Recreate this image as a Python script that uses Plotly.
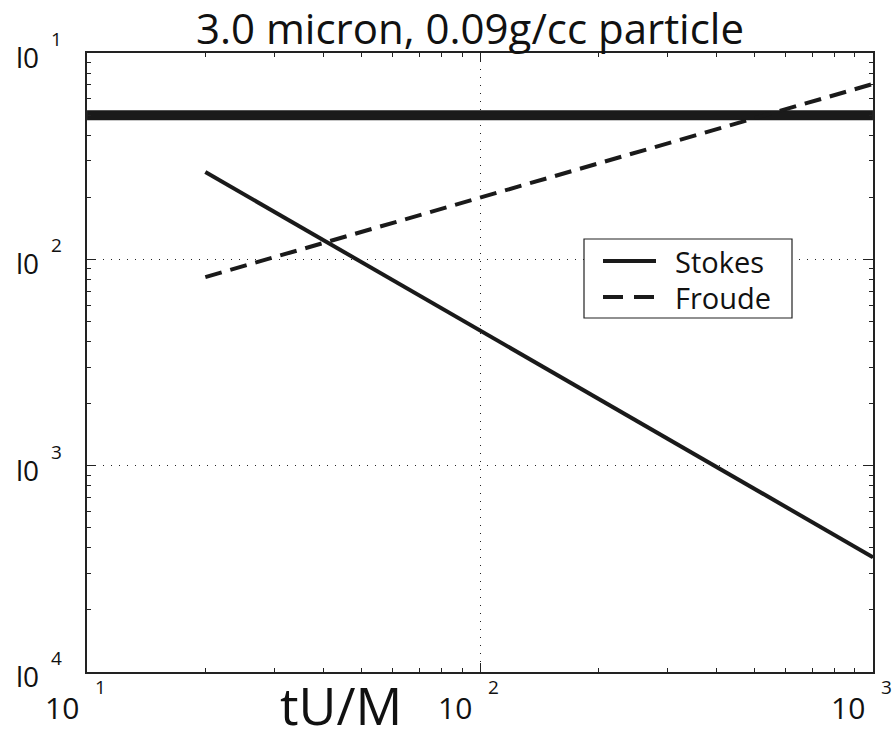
import math
import plotly.graph_objects as go

# Nondimensional time tU/M and the two particle parameters
tum = [20, 50, 100, 200, 500, 1000]
stokes = [0.0265, 0.0097, 0.0045, 0.0021, 0.00077, 0.00036]
froude = [0.0082, 0.0136, 0.0199, 0.0292, 0.0483, 0.0708]

# Reference level drawn across the full time range
ref_x = [10, 1000]
ref_y = [0.05, 0.05]

# Decade ticks: base text and exponent text of each label
x_tickvals = [10, 100, 1000]
x_tick_base = ["10", "10", "10"]
x_tick_exp = ["1", "2", "3"]
y_tickvals = [1e-1, 1e-2, 1e-3, 1e-4]
y_tick_base = ["l0", "l0", "l0", "l0"]
y_tick_exp = ["1", "2", "3", "4"]

legend_names = ["Stokes", "Froude"]

FONT = "Open Sans"
INK = "#1a1a1a"
TXT = "#111"

# plot area in pixels (used to place labels and the hand-drawn legend box)
W, H = 892, 743
L, R, T, B = 87, 19, 53, 71
PW, PH = W - L - R, H - T - B


def px_x(p):
    return (p - L) / PW


def px_y(p):
    return (H - B - p) / PH


fig = go.Figure()
fig.add_trace(go.Scatter(x=ref_x, y=ref_y, mode="lines",
                         line=dict(color=INK, width=10),
                         showlegend=False, hoverinfo="skip"))
fig.add_trace(go.Scatter(x=tum, y=stokes, mode="lines", name=legend_names[0],
                         line=dict(color=INK, width=4), showlegend=False))
fig.add_trace(go.Scatter(x=tum, y=froude, mode="lines", name=legend_names[1],
                         line=dict(color=INK, width=4, dash="17px,9px"),
                         showlegend=False))

axis_common = dict(
    type="log",
    automargin=False,
    showline=True, linecolor="#222", linewidth=1.5, mirror="ticks",
    ticks="inside", ticklen=9, tickcolor="#222", tickwidth=1,
    showgrid=True, gridcolor="#222", gridwidth=1, griddash="1px,7px",
    zeroline=False, showticklabels=False,
    minor=dict(ticks="inside", ticklen=4, tickcolor="#222", dtick="D1",
               showgrid=False),
)

fig.update_xaxes(range=[0.9999, 3.0001], tickvals=x_tickvals, **axis_common)
fig.update_yaxes(range=[-4.0001, -0.9999], tickvals=y_tickvals, **axis_common)

# decade labels written as base + raised exponent
for v, base, ex in zip(x_tickvals, x_tick_base, x_tick_exp):
    lx = math.log10(v)
    fig.add_annotation(text=base, xref="x", yref="paper", x=lx, y=px_y(707),
                       xanchor="right", yanchor="middle", xshift=-6,
                       showarrow=False, font=dict(family=FONT, size=30, color=TXT))
    fig.add_annotation(text=ex, xref="x", yref="paper", x=lx, y=px_y(687),
                       xanchor="left", yanchor="middle", xshift=6,
                       showarrow=False, font=dict(family=FONT, size=19, color=TXT))

for v, base, ex in zip(y_tickvals, y_tick_base, y_tick_exp):
    ly = math.log10(v)
    fig.add_annotation(text=base, xref="paper", yref="y", x=px_x(41), y=ly,
                       xanchor="right", yanchor="middle", yshift=-4,
                       showarrow=False, font=dict(family=FONT, size=28, color=TXT))
    fig.add_annotation(text=ex, xref="paper", yref="y", x=px_x(49), y=ly,
                       xanchor="left", yanchor="middle", yshift=14,
                       showarrow=False, font=dict(family=FONT, size=19, color=TXT))

# legend: framed box with line samples and labels
box = dict(x0=px_x(584), x1=px_x(792), y0=px_y(318), y1=px_y(239))
fig.add_shape(type="rect", xref="paper", yref="paper", **box,
              line=dict(color="#222", width=1.2), fillcolor="white", layer="above")
rows = [(261, "solid"), (297, "20px,11px")]
for (py, dash), name in zip(rows, legend_names):
    fig.add_shape(type="line", xref="paper", yref="paper",
                  x0=px_x(603), x1=px_x(656), y0=px_y(py), y1=px_y(py),
                  line=dict(color=INK, width=4, dash=dash), layer="above")
    fig.add_annotation(text=name, xref="paper", yref="paper",
                       x=px_x(673), y=px_y(py), xanchor="left", yanchor="middle",
                       showarrow=False,
                       font=dict(family=FONT, size=29, color=TXT))

# x-axis label
fig.add_annotation(text="tU/M", xref="paper", yref="paper",
                   x=px_x(341), y=px_y(705), xanchor="center", yanchor="middle",
                   showarrow=False, font=dict(family=FONT, size=52, color=TXT))

fig.update_layout(
    width=W, height=H,
    margin=dict(l=L, r=R, t=T, b=B),
    paper_bgcolor="white", plot_bgcolor="white",
    title=dict(text="3.0 micron, 0.09g/cc particle", x=470 / W,
               xref="container", xanchor="center",
               y=1 - 29 / H, yanchor="middle",
               font=dict(family=FONT, size=42, color=TXT)),
    showlegend=False,
)

fig.write_html("out.html")
